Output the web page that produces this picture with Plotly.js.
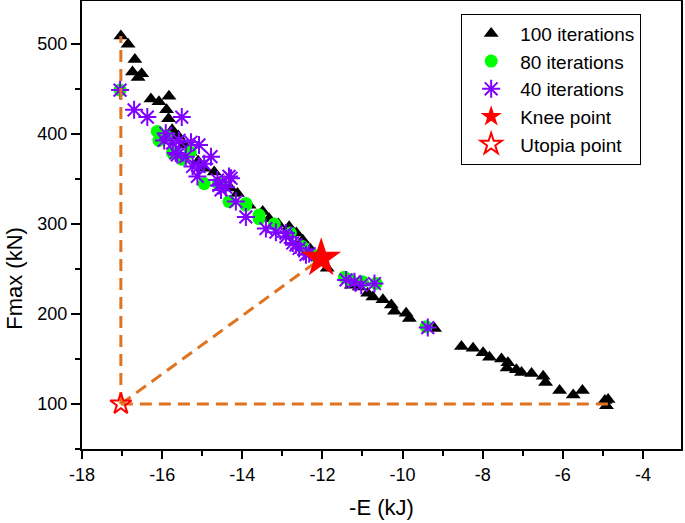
<!DOCTYPE html>
<html>
<head>
<meta charset="utf-8">
<script src="https://cdn.plot.ly/plotly-3.0.1.min.js"></script>
<style>html,body{margin:0;padding:0;background:#fff;}#chart{width:685px;height:523px;}</style>
</head>
<body>
<div id="chart"></div>
<script>
// 100 iterations (black triangles)
const it100E = [-17.03,-16.85,-16.68,-16.74,-16.51,-16.6,-16.28,-16.08,-15.83,-15.89,-15.84,
  -15.75,-15.6,-15.45,-15.3,-15.1,-14.95,-14.7,-14.5,-14.3,-14.12,-13.83,-13.49,-13.33,-13.1,-12.83,-12.65,-12.49,-12.3,
  -11.88,-11.28,-11.08,-10.87,-10.74,-10.49,-10.28,-10.2,-9.91,-9.83,-9.2,
  -8.53,-8.24,-7.99,-7.83,-7.53,-7.37,-7.39,-7.16,-7.03,-6.78,-6.49,-6.43,-6.08,-5.74,-5.51,-4.95,-4.87,-4.91];
const it100F = [509,500,483,469,467,463,439,436,442,427,417,
  405,398,388,380,370,362,358,345,340,334,321,314,306,300,297,290,282,272,
  251,232,230,223,219,216,210,203,201,195,184,
  164,162,157,152,150,146,140,138,135,134,131,124,115,110,115,104,105,98];
// 80 iterations (green circles)
const it80E = [-17.05,-16.12,-16.08,-15.9,-15.74,-15.5,-15.3,-14.95,-14.6,-14.33,-13.91,-13.91,-13.58,-13.58,-13.2,-12.8,-12.5,-12.2,-11.45,-11.3,-11.0,-10.66,-9.41];
const it80F = [449,403,393,398,379,372,380,345,345,325,323,321,310,306,300,290,275,265,241,238,236,234,186];
// 40 iterations (purple asterisks)
const it40E = [-17.05,-16.7,-16.37,-15.51,-15.91,-15.95,-15.74,-15.58,-15.28,-15.08,-15.66,-15.41,-14.78,-15.24,-15.12,-14.95,-14.62,-14.41,-14.28,-14.53,-14.16,-13.91,-15.62,-15.08,-14.33,-14.58,-13.41,-13.16,-12.91,-12.66,-12.41,-11.41,-12.91,-12.74,-12.58,-12.33,-11.2,-11.03,-10.7,-9.37];
const it40F = [449,427,419,419,401,393,390,393,391,388,379,375,375,364,353,367,349,341,351,338,325,308,377,364,353,343,295,291,286,277,266,238,290,279,273,267,236,232,234,185];
// Knee and Utopia points
const kneeE = [-12.03], kneeF = [262];
const utopiaE = [-17.03], utopiaF = [100];
// tick labels
const xTickVals = [-18,-16,-14,-12,-10,-8,-6,-4];
const xTickText = ['-18','-16','-14','-12','-10','-8','-6','-4'];
const yTickVals = [100,200,300,400,500];
const yTickText = ['100','200','300','400','500'];

const FONT = 'Liberation Sans, Arial, sans-serif';
const tickFont = {family: FONT, size: 18, color: '#000'};
const lineColor = '#E0731F';
const dashStyle = {color: lineColor, width: 3, dash: '12px,7px'};

// dashed guide lines derived from the data
const iTop = it100F.indexOf(Math.max(...it100F));
const iRight = it100E.indexOf(Math.max(...it100E));

const traces = [
  {x: it100E, y: it100F, mode: 'markers', type: 'scatter', name: '100 iterations',
   marker: {symbol: 'triangle-up', size: 13, color: '#000'}},
  {x: it80E, y: it80F, mode: 'markers', type: 'scatter', name: '80 iterations',
   marker: {symbol: 'circle', size: 13, color: '#00FF00'}},
  {x: it40E, y: it40F, mode: 'markers', type: 'scatter', name: '40 iterations',
   marker: {symbol: 'asterisk-open', size: 15, color: '#8000FF', line: {color: '#8000FF', width: 2}}},
  {x: [utopiaE[0], utopiaE[0]], y: [utopiaF[0], it100F[iTop]], mode: 'lines', type: 'scatter', showlegend: false, hoverinfo: 'skip', line: dashStyle},
  {x: [utopiaE[0], it100E[iRight]], y: [utopiaF[0], utopiaF[0]], mode: 'lines', type: 'scatter', showlegend: false, hoverinfo: 'skip', line: dashStyle},
  {x: [utopiaE[0], kneeE[0]], y: [utopiaF[0], kneeF[0]], mode: 'lines', type: 'scatter', showlegend: false, hoverinfo: 'skip', line: dashStyle},
  {x: kneeE, y: kneeF, mode: 'markers', type: 'scatter', name: 'Knee point',
   marker: {symbol: 'star', size: 30, color: '#FF0000'}},
  {x: utopiaE, y: utopiaF, mode: 'markers', type: 'scatter', name: 'Utopia point',
   marker: {symbol: 'star-open', size: 16, color: '#FF0000', line: {color: '#FF0000', width: 2}}}
];

const layout = {
  width: 685, height: 523,
  margin: {l: 82, r: 4, t: 1, b: 74},
  paper_bgcolor: '#fff', plot_bgcolor: '#fff',
  font: tickFont,
  showlegend: true,
  legend: {x: 0.633, y: 0.972, xanchor: 'left', yanchor: 'top', bordercolor: '#000', borderwidth: 1,
    bgcolor: '#fff', itemwidth: 48, font: {family: FONT, size: 19, color: '#000'}},
  xaxis: {range: [-18, -3.05], tickmode: 'array', tickvals: xTickVals, ticktext: xTickText,
    showgrid: false, zeroline: false,
    showline: true, linecolor: '#000', linewidth: 2, mirror: true,
    ticks: 'outside', ticklen: 8, tickwidth: 2, tickcolor: '#000', tickfont: tickFont,
    minor: {tickmode: 'linear', tick0: -18, dtick: 1, ticks: 'outside', ticklen: 5, tickwidth: 2, tickcolor: '#000'},
    title: {text: '-E (kJ)', font: {family: FONT, size: 22, color: '#000'}, standoff: 16}},
  yaxis: {range: [50, 548], tickmode: 'array', tickvals: yTickVals, ticktext: yTickText,
    showgrid: false, zeroline: false,
    showline: true, linecolor: '#000', linewidth: 2, mirror: true,
    ticks: 'outside', ticklen: 9, tickwidth: 2, tickcolor: '#000', tickfont: tickFont,
    minor: {tickmode: 'linear', tick0: 50, dtick: 50, ticks: 'outside', ticklen: 5, tickwidth: 2, tickcolor: '#000'}},
  annotations: [{text: 'Fmax (kN)', xref: 'paper', yref: 'paper', x: -0.112, y: 0.382,
    xanchor: 'center', yanchor: 'middle', textangle: -90, showarrow: false,
    font: {family: FONT, size: 22, color: '#000'}}]
};

Plotly.newPlot('chart', traces, layout, {displayModeBar: false, staticPlot: true});
</script>
</body>
</html>
